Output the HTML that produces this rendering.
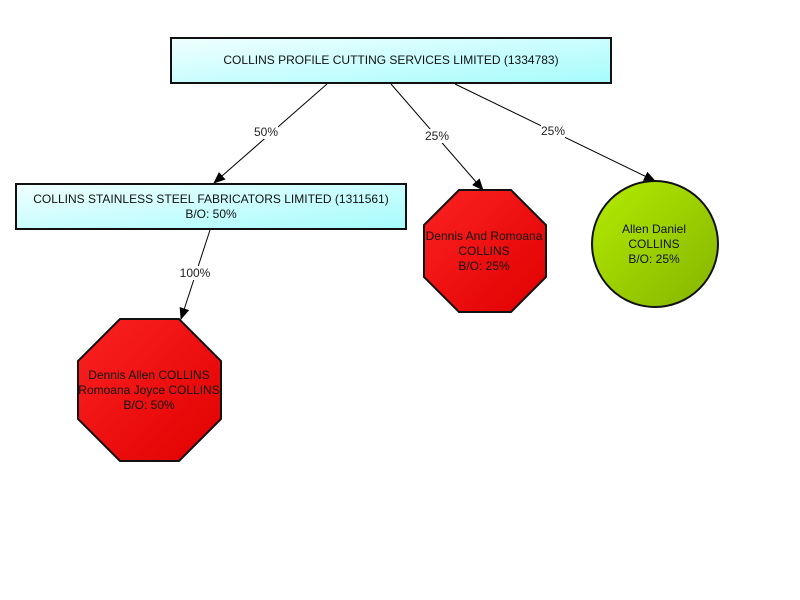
<!DOCTYPE html>
<html><head><meta charset="utf-8"><style>
body{margin:0;background:#fff;}
svg{display:block;font-family:"Liberation Sans",Arial,sans-serif;}
</style></head><body>
<svg width="800" height="600" viewBox="0 0 800 600" xmlns="http://www.w3.org/2000/svg">
<defs>
<linearGradient id="cy" x1="0" y1="0" x2="1" y2="1"><stop offset="0" stop-color="#f0feff"/><stop offset="1" stop-color="#a6fcfc"/></linearGradient>
<linearGradient id="rd" x1="0" y1="0" x2="1" y2="1"><stop offset="0" stop-color="#fc2222"/><stop offset="1" stop-color="#e00000"/></linearGradient>
<linearGradient id="gr" x1="0" y1="0" x2="1" y2="1"><stop offset="0" stop-color="#b4ec00"/><stop offset="1" stop-color="#84b400"/></linearGradient>
<marker id="ar" markerWidth="12" markerHeight="10" refX="11" refY="5" orient="auto" markerUnits="userSpaceOnUse"><path d="M0,0 L12,5 L0,10 z" fill="#000"/></marker>
</defs>
<g stroke="#000" stroke-width="1" fill="none">
<line x1="327" y1="84" x2="214" y2="183" marker-end="url(#ar)"/>
<line x1="391" y1="84" x2="483" y2="190" marker-end="url(#ar)"/>
<line x1="455" y1="84" x2="655" y2="181" marker-end="url(#ar)"/>
<line x1="210" y1="230" x2="181" y2="319" marker-end="url(#ar)"/>
</g>
<g font-size="12" fill="#222" text-anchor="middle">
<rect x="254" y="125" width="24" height="14" fill="#fff"/><text x="266" y="136">50%</text>
<rect x="425" y="129" width="24" height="14" fill="#fff"/><text x="437" y="140">25%</text>
<rect x="541" y="124" width="24" height="14" fill="#fff"/><text x="553" y="135">25%</text>
<rect x="180" y="266" width="30" height="14" fill="#fff"/><text x="195" y="277">100%</text>
</g>
<rect x="171" y="38" width="440" height="45" fill="url(#cy)" stroke="#111" stroke-width="2"/>
<rect x="16" y="184" width="390" height="45" fill="url(#cy)" stroke="#111" stroke-width="2"/>
<polygon points="120,319 179,319 221,361 221,419 179,461 120,461 78,419 78,361" fill="url(#rd)" stroke="#111" stroke-width="2"/>
<polygon points="459,190 511,190 546,225 546,277 511,312 459,312 424,277 424,225" fill="url(#rd)" stroke="#111" stroke-width="2"/>
<circle cx="655" cy="244" r="63" fill="url(#gr)" stroke="#111" stroke-width="2"/>
<g font-size="12" fill="#111" text-anchor="middle">
<text x="391" y="64">COLLINS PROFILE CUTTING SERVICES LIMITED (1334783)</text>
<text x="211" y="203">COLLINS STAINLESS STEEL FABRICATORS LIMITED (1311561)</text>
<text x="211" y="218">B/O: 50%</text>
<text x="149" y="379">Dennis Allen COLLINS</text>
<text x="149" y="394">Romoana Joyce COLLINS</text>
<text x="149" y="409">B/O: 50%</text>
<text x="484" y="240">Dennis And Romoana</text>
<text x="484" y="255">COLLINS</text>
<text x="484" y="270">B/O: 25%</text>
<text x="654" y="233">Allen Daniel</text>
<text x="654" y="248">COLLINS</text>
<text x="654" y="263">B/O: 25%</text>
</g>
</svg>
</body></html>
